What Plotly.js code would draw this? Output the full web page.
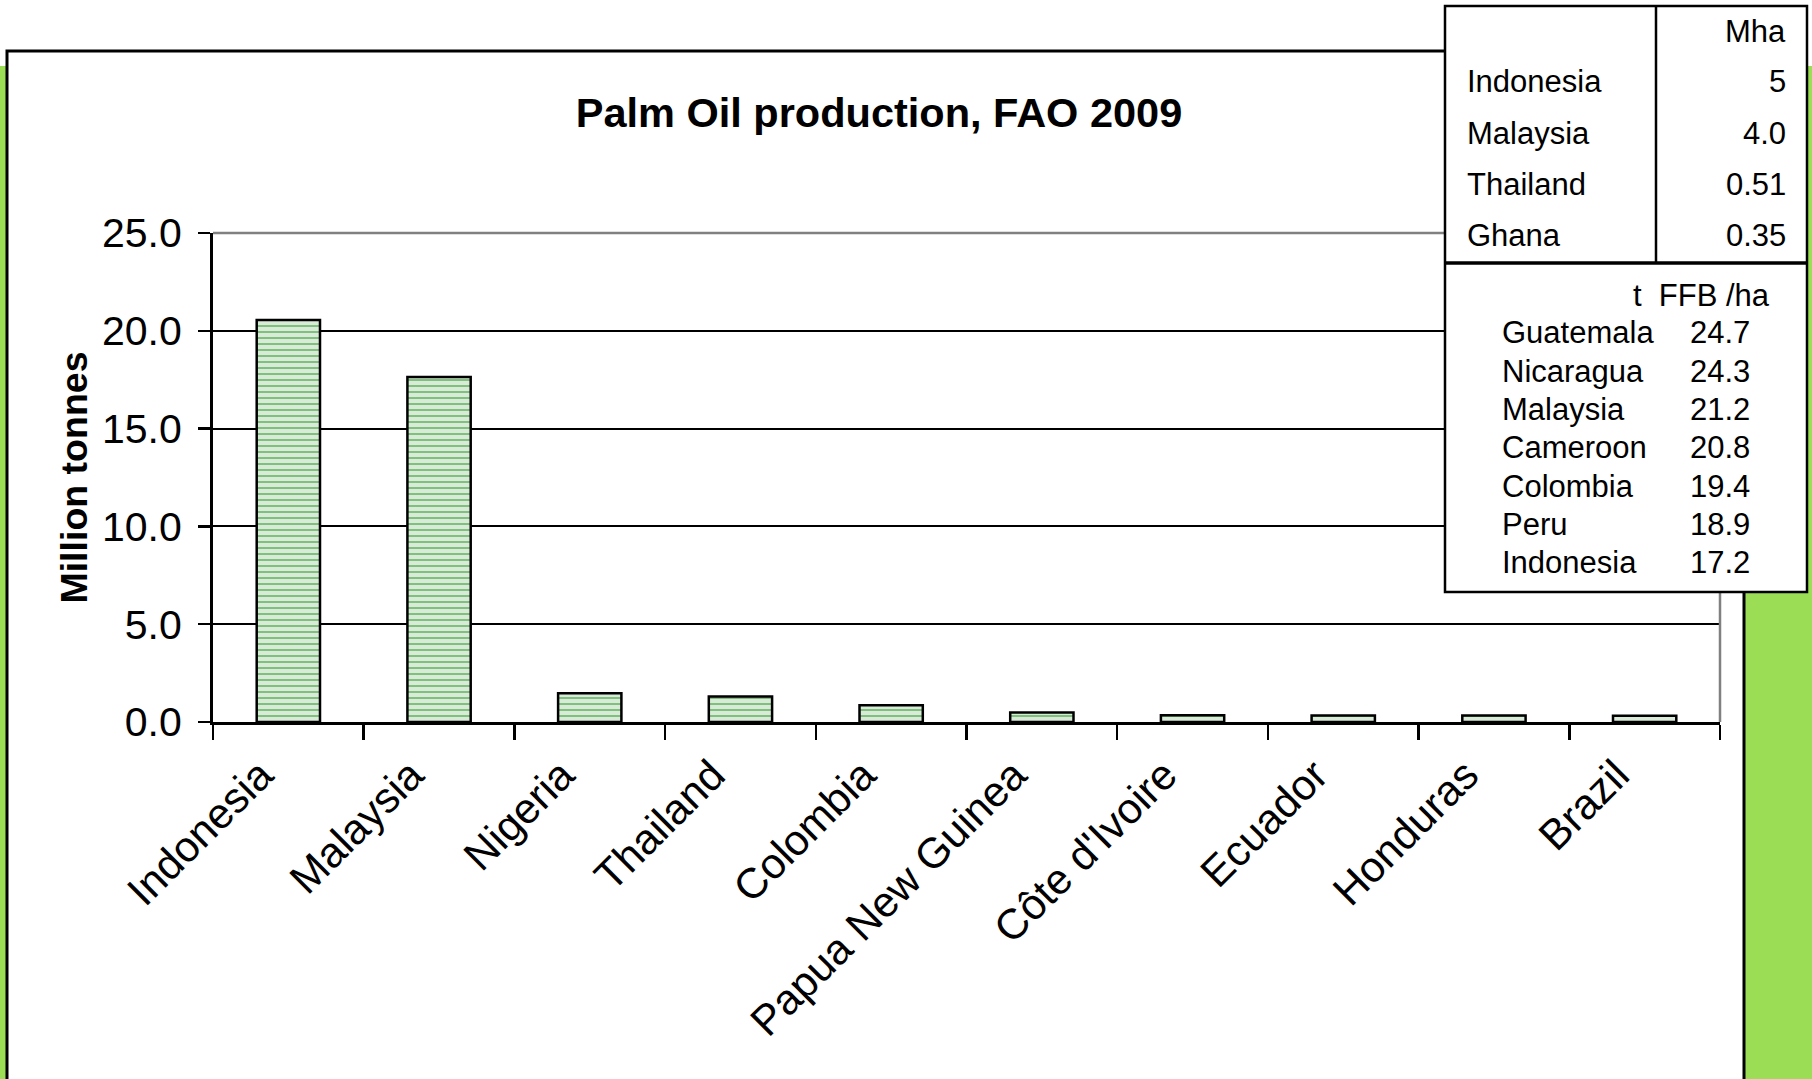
<!DOCTYPE html>
<html>
<head>
<meta charset="utf-8">
<script src="https://cdn.plot.ly/plotly-3.0.1.min.js"></script>
<style>
  html, body { margin: 0; padding: 0; background: #ffffff; }
  #chart { width: 1812px; height: 1079px; }
</style>
</head>
<body>
<div id="chart"></div>
<script>
// Palm oil production by country (million tonnes), FAO 2009
const categories = ['Indonesia', 'Malaysia', 'Nigeria', 'Thailand', 'Colombia',
  'Papua New Guinea', "Côte d'Ivoire", 'Ecuador', 'Honduras', 'Brazil'];
const production = [20.55, 17.64, 1.47, 1.30, 0.85, 0.48, 0.34, 0.33, 0.33, 0.32];

// Planted area inset (million hectares)
const areaHeader = 'Mha';
const areaCountries = ['Indonesia', 'Malaysia', 'Thailand', 'Ghana'];
const areaValues = ['5', '4.0', '0.51', '0.35'];

// Fresh fruit bunch yield inset (tonnes per hectare)
const yieldHeader = 't  FFB /ha';
const yieldCountries = ['Guatemala', 'Nicaragua', 'Malaysia', 'Cameroon', 'Colombia', 'Peru', 'Indonesia'];
const yieldValues = ['24.7', '24.3', '21.2', '20.8', '19.4', '18.9', '17.2'];

const FONT = 'Liberation Sans, Arial, Helvetica, sans-serif';
const W = 1812, H = 1079;
const M = { l: 213, r: 92, t: 233, b: 357 };
const PW = W - M.l - M.r;
const PH = H - M.t - M.b;
// pixel -> paper coordinate helpers for the decorations around the plot
const px = v => (v - M.l) / PW;
const py = v => (H - M.b - v) / PH;

const shapes = [];
const rect = (x0, y0, x1, y1, fill, lineColor, lineWidth, layer) => shapes.push({
  type: 'rect', xref: 'paper', yref: 'paper',
  x0: px(x0), x1: px(x1), y0: py(y0), y1: py(y1),
  fillcolor: fill, line: { color: lineColor, width: lineWidth }, layer: layer
});
const line = (x0, y0, x1, y1, color, width, layer) => shapes.push({
  type: 'line', xref: 'paper', yref: 'paper',
  x0: px(x0), x1: px(x1), y0: py(y0), y1: py(y1),
  line: { color: color, width: width }, layer: layer
});

// slide background and chart frame
rect(-2, 66, 1814, 1090, '#9bdd55', 'rgba(0,0,0,0)', 0, 'below');
rect(7, 51, 1744, 1100, '#ffffff', '#000000', 3, 'below');
// plot-area border (top and right)
line(M.l, M.t, W - M.r, M.t, '#808080', 2.5, 'above');
line(W - M.r, M.t, W - M.r, H - M.b, '#808080', 2.5, 'above');
// inset table frame
rect(1445, 6, 1807, 592, '#ffffff', '#000000', 2.5, 'above');
line(1445, 263, 1807, 263, '#000000', 3.5, 'above');
line(1656, 6, 1656, 263, '#000000', 2.5, 'above');

const annotations = [];
const txt = (x, y, text, xanchor, size) => annotations.push({
  xref: 'paper', yref: 'paper', x: px(x), y: py(y), text: text,
  xanchor: xanchor, yanchor: 'middle', showarrow: false,
  font: { family: FONT, size: size, color: '#000000' }
});

txt(1788, 31, areaHeader, 'right', 31);
const areaRowY = [82, 133, 184, 235];
areaCountries.forEach((c, i) => {
  txt(1465, areaRowY[i], c, 'left', 31);
  txt(1788, areaRowY[i], areaValues[i], 'right', 31);
});
txt(1772, 295, yieldHeader, 'right', 31);
const yieldRowY = [332, 371, 409, 447, 486, 524, 562];
yieldCountries.forEach((c, i) => {
  txt(1500, yieldRowY[i], c, 'left', 31);
  txt(1752, yieldRowY[i], yieldValues[i], 'right', 31);
});

const trace = {
  type: 'bar',
  x: categories,
  y: production,
  marker: {
    color: '#e3f1e3',
    line: { color: '#000000', width: 2.5 },
    pattern: { shape: '-', fgcolor: '#2e9e2e', bgcolor: '#d9ead9', size: 6, solidity: 0.18 }
  },
  hoverinfo: 'x+y'
};

const layout = {
  width: W, height: H,
  margin: M,
  paper_bgcolor: '#ffffff',
  plot_bgcolor: 'rgba(0,0,0,0)',
  showlegend: false,
  bargap: 0.58,
  font: { family: FONT, color: '#000000' },
  title: {
    text: 'Palm Oil production, FAO 2009',
    font: { family: FONT, size: 41.5, weight: 'bold', color: '#000000' },
    x: 879 / W, xanchor: 'center', xref: 'container',
    y: 1 - 112 / H, yanchor: 'middle', yref: 'container'
  },
  xaxis: {
    type: 'category',
    range: [-0.5, categories.length - 0.5],
    tickson: 'boundaries',
    ticks: 'outside', ticklen: 15, tickwidth: 2.5, tickcolor: '#000000',
    showline: true, linecolor: '#000000', linewidth: 3,
    showgrid: false, zeroline: false,
    tickangle: -45,
    ticklabelshift: -28,
    ticklabelstandoff: 8,
    tickfont: { family: FONT, size: 42.5, color: '#000000' },
    automargin: false, fixedrange: true
  },
  yaxis: {
    range: [0, 25], dtick: 5, tickformat: '.1f',
    ticks: 'outside', ticklen: 12, tickwidth: 2.5, tickcolor: '#000000',
    showline: true, linecolor: '#000000', linewidth: 3,
    showgrid: true, gridcolor: '#000000', gridwidth: 2,
    zeroline: false,
    ticklabelstandoff: 8,
    tickfont: { family: FONT, size: 41, color: '#000000' },
    title: {
      text: 'Million tonnes',
      font: { family: FONT, size: 37.5, weight: 'bold', color: '#000000' },
      standoff: 3
    },
    automargin: false, fixedrange: true
  },
  shapes: shapes,
  annotations: annotations
};

Plotly.newPlot('chart', [trace], layout, { displayModeBar: false, staticPlot: true });
</script>
</body>
</html>
